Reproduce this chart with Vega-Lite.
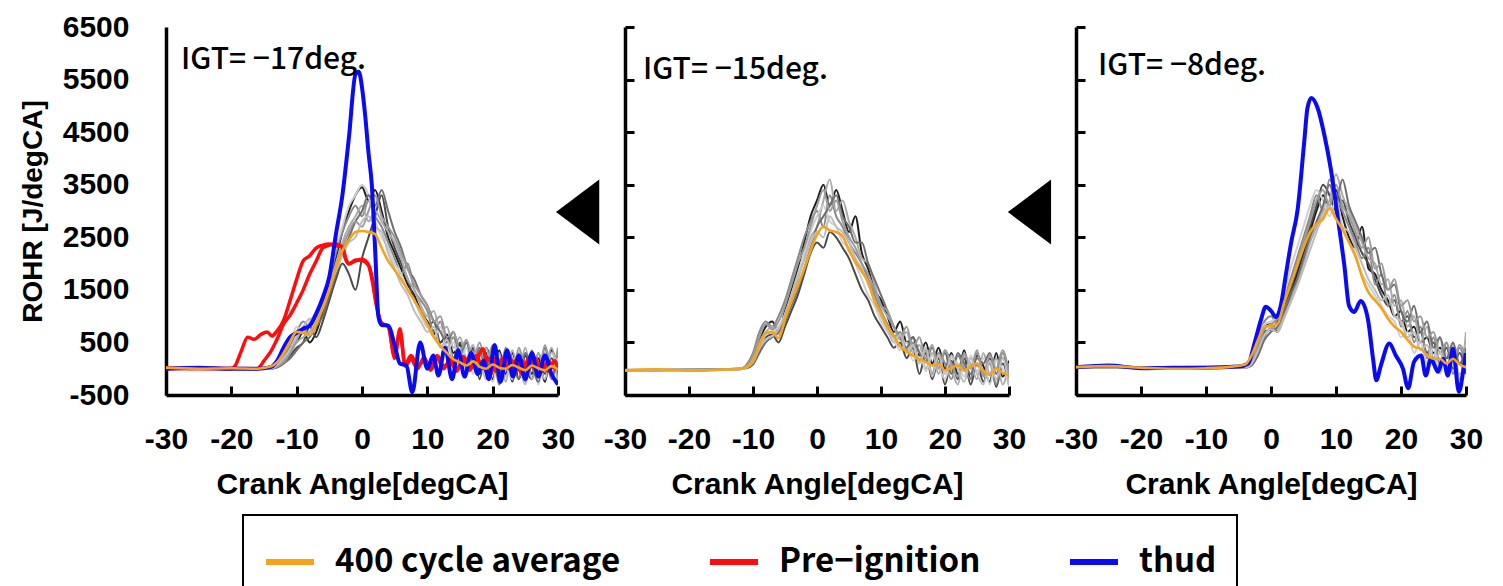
{
"$schema":"https://vega.github.io/schema/vega-lite/v6.json",
"autosize":{"type":"pad"},
"padding":{"left":18,"top":12,"right":5,"bottom":5},
"background":"white",
"bounds":"flush",
"spacing":67,
"resolve":{"scale":{"color":"shared","stroke":"shared"}},
"datasets":{
"gray":[
{"p":1,"s":"g1","x":-30,"y":0},{"p":1,"s":"g1","x":-14,"y":0},{"p":1,"s":"g1","x":-13,"y":60},{"p":1,"s":"g1","x":-12,"y":200},{"p":1,"s":"g1","x":-11,"y":400},{"p":1,"s":"g1","x":-10,"y":500},{"p":1,"s":"g1","x":-9,"y":700},{"p":1,"s":"g1","x":-8,"y":500},{"p":1,"s":"g1","x":-7,"y":700},{"p":1,"s":"g1","x":-6,"y":1100},{"p":1,"s":"g1","x":-5,"y":1600},{"p":1,"s":"g1","x":-4,"y":2100},{"p":1,"s":"g1","x":-3,"y":2600},{"p":1,"s":"g1","x":-2,"y":3000},{"p":1,"s":"g1","x":-1,"y":3300},{"p":1,"s":"g1","x":0,"y":3450},{"p":1,"s":"g1","x":1,"y":3200},{"p":1,"s":"g1","x":2,"y":3400},{"p":1,"s":"g1","x":3,"y":3000},{"p":1,"s":"g1","x":4,"y":2500},{"p":1,"s":"g1","x":5,"y":2200},{"p":1,"s":"g1","x":6,"y":1900},{"p":1,"s":"g1","x":7,"y":1600},{"p":1,"s":"g1","x":8,"y":1400},{"p":1,"s":"g1","x":9,"y":1100},{"p":1,"s":"g1","x":10,"y":900},{"p":1,"s":"g1","x":11,"y":700},{"p":1,"s":"g1","x":12,"y":500},{"p":1,"s":"g1","x":13,"y":650},{"p":1,"s":"g1","x":14,"y":300},{"p":1,"s":"g1","x":15,"y":450},{"p":1,"s":"g1","x":16,"y":100},{"p":1,"s":"g1","x":17,"y":400},{"p":1,"s":"g1","x":18,"y":-100},{"p":1,"s":"g1","x":19,"y":300},{"p":1,"s":"g1","x":20,"y":-200},{"p":1,"s":"g1","x":21,"y":350},{"p":1,"s":"g1","x":22,"y":-100},{"p":1,"s":"g1","x":23,"y":300},{"p":1,"s":"g1","x":24,"y":-200},{"p":1,"s":"g1","x":25,"y":250},{"p":1,"s":"g1","x":26,"y":-100},{"p":1,"s":"g1","x":27,"y":200},{"p":1,"s":"g1","x":28,"y":-250},{"p":1,"s":"g1","x":29,"y":350},{"p":1,"s":"g1","x":30,"y":-100},
{"p":1,"s":"g2","x":-30,"y":10},{"p":1,"s":"g2","x":-14,"y":0},{"p":1,"s":"g2","x":-13,"y":30},{"p":1,"s":"g2","x":-12,"y":100},{"p":1,"s":"g2","x":-11,"y":250},{"p":1,"s":"g2","x":-10,"y":400},{"p":1,"s":"g2","x":-9,"y":500},{"p":1,"s":"g2","x":-8,"y":800},{"p":1,"s":"g2","x":-7,"y":600},{"p":1,"s":"g2","x":-6,"y":900},{"p":1,"s":"g2","x":-5,"y":1300},{"p":1,"s":"g2","x":-4,"y":1700},{"p":1,"s":"g2","x":-3,"y":2000},{"p":1,"s":"g2","x":-2,"y":1800},{"p":1,"s":"g2","x":-1,"y":1500},{"p":1,"s":"g2","x":0,"y":2100},{"p":1,"s":"g2","x":1,"y":2500},{"p":1,"s":"g2","x":2,"y":2900},{"p":1,"s":"g2","x":3,"y":3300},{"p":1,"s":"g2","x":4,"y":2700},{"p":1,"s":"g2","x":5,"y":2300},{"p":1,"s":"g2","x":6,"y":2000},{"p":1,"s":"g2","x":7,"y":1700},{"p":1,"s":"g2","x":8,"y":1300},{"p":1,"s":"g2","x":9,"y":1100},{"p":1,"s":"g2","x":10,"y":800},{"p":1,"s":"g2","x":11,"y":900},{"p":1,"s":"g2","x":12,"y":500},{"p":1,"s":"g2","x":13,"y":600},{"p":1,"s":"g2","x":14,"y":200},{"p":1,"s":"g2","x":15,"y":500},{"p":1,"s":"g2","x":16,"y":0},{"p":1,"s":"g2","x":17,"y":400},{"p":1,"s":"g2","x":18,"y":-200},{"p":1,"s":"g2","x":19,"y":400},{"p":1,"s":"g2","x":20,"y":100},{"p":1,"s":"g2","x":21,"y":-150},{"p":1,"s":"g2","x":22,"y":300},{"p":1,"s":"g2","x":23,"y":-250},{"p":1,"s":"g2","x":24,"y":250},{"p":1,"s":"g2","x":25,"y":0},{"p":1,"s":"g2","x":26,"y":-200},{"p":1,"s":"g2","x":27,"y":300},{"p":1,"s":"g2","x":28,"y":-100},{"p":1,"s":"g2","x":29,"y":200},{"p":1,"s":"g2","x":30,"y":-200},
{"p":1,"s":"g3","x":-30,"y":0},{"p":1,"s":"g3","x":-14,"y":10},{"p":1,"s":"g3","x":-13,"y":80},{"p":1,"s":"g3","x":-12,"y":250},{"p":1,"s":"g3","x":-11,"y":450},{"p":1,"s":"g3","x":-10,"y":700},{"p":1,"s":"g3","x":-9,"y":900},{"p":1,"s":"g3","x":-8,"y":800},{"p":1,"s":"g3","x":-7,"y":1000},{"p":1,"s":"g3","x":-6,"y":1300},{"p":1,"s":"g3","x":-5,"y":1700},{"p":1,"s":"g3","x":-4,"y":2200},{"p":1,"s":"g3","x":-3,"y":2600},{"p":1,"s":"g3","x":-2,"y":2900},{"p":1,"s":"g3","x":-1,"y":3100},{"p":1,"s":"g3","x":0,"y":2900},{"p":1,"s":"g3","x":1,"y":3200},{"p":1,"s":"g3","x":2,"y":2900},{"p":1,"s":"g3","x":3,"y":2700},{"p":1,"s":"g3","x":4,"y":2400},{"p":1,"s":"g3","x":5,"y":2100},{"p":1,"s":"g3","x":6,"y":1800},{"p":1,"s":"g3","x":7,"y":2000},{"p":1,"s":"g3","x":8,"y":1500},{"p":1,"s":"g3","x":9,"y":1300},{"p":1,"s":"g3","x":10,"y":1100},{"p":1,"s":"g3","x":11,"y":700},{"p":1,"s":"g3","x":12,"y":900},{"p":1,"s":"g3","x":13,"y":400},{"p":1,"s":"g3","x":14,"y":600},{"p":1,"s":"g3","x":15,"y":200},{"p":1,"s":"g3","x":16,"y":500},{"p":1,"s":"g3","x":17,"y":0},{"p":1,"s":"g3","x":18,"y":350},{"p":1,"s":"g3","x":19,"y":-100},{"p":1,"s":"g3","x":20,"y":300},{"p":1,"s":"g3","x":21,"y":-200},{"p":1,"s":"g3","x":22,"y":400},{"p":1,"s":"g3","x":23,"y":-100},{"p":1,"s":"g3","x":24,"y":300},{"p":1,"s":"g3","x":25,"y":-250},{"p":1,"s":"g3","x":26,"y":350},{"p":1,"s":"g3","x":27,"y":-150},{"p":1,"s":"g3","x":28,"y":250},{"p":1,"s":"g3","x":29,"y":-200},{"p":1,"s":"g3","x":30,"y":300},
{"p":1,"s":"g4","x":-30,"y":0},{"p":1,"s":"g4","x":-14,"y":0},{"p":1,"s":"g4","x":-13,"y":50},{"p":1,"s":"g4","x":-12,"y":150},{"p":1,"s":"g4","x":-11,"y":300},{"p":1,"s":"g4","x":-10,"y":500},{"p":1,"s":"g4","x":-9,"y":600},{"p":1,"s":"g4","x":-8,"y":700},{"p":1,"s":"g4","x":-7,"y":900},{"p":1,"s":"g4","x":-6,"y":1200},{"p":1,"s":"g4","x":-5,"y":1600},{"p":1,"s":"g4","x":-4,"y":2000},{"p":1,"s":"g4","x":-3,"y":2400},{"p":1,"s":"g4","x":-2,"y":2700},{"p":1,"s":"g4","x":-1,"y":2900},{"p":1,"s":"g4","x":0,"y":3100},{"p":1,"s":"g4","x":1,"y":2800},{"p":1,"s":"g4","x":2,"y":3000},{"p":1,"s":"g4","x":3,"y":2800},{"p":1,"s":"g4","x":4,"y":2600},{"p":1,"s":"g4","x":5,"y":2400},{"p":1,"s":"g4","x":6,"y":2100},{"p":1,"s":"g4","x":7,"y":1700},{"p":1,"s":"g4","x":8,"y":1500},{"p":1,"s":"g4","x":9,"y":1200},{"p":1,"s":"g4","x":10,"y":1000},{"p":1,"s":"g4","x":11,"y":1100},{"p":1,"s":"g4","x":12,"y":700},{"p":1,"s":"g4","x":13,"y":800},{"p":1,"s":"g4","x":14,"y":400},{"p":1,"s":"g4","x":15,"y":600},{"p":1,"s":"g4","x":16,"y":200},{"p":1,"s":"g4","x":17,"y":450},{"p":1,"s":"g4","x":18,"y":0},{"p":1,"s":"g4","x":19,"y":400},{"p":1,"s":"g4","x":20,"y":-100},{"p":1,"s":"g4","x":21,"y":300},{"p":1,"s":"g4","x":22,"y":-250},{"p":1,"s":"g4","x":23,"y":350},{"p":1,"s":"g4","x":24,"y":-50},{"p":1,"s":"g4","x":25,"y":400},{"p":1,"s":"g4","x":26,"y":-200},{"p":1,"s":"g4","x":27,"y":300},{"p":1,"s":"g4","x":28,"y":0},{"p":1,"s":"g4","x":29,"y":400},{"p":1,"s":"g4","x":30,"y":-300},
{"p":1,"s":"g5","x":-30,"y":0},{"p":1,"s":"g5","x":-14,"y":20},{"p":1,"s":"g5","x":-13,"y":100},{"p":1,"s":"g5","x":-12,"y":300},{"p":1,"s":"g5","x":-11,"y":500},{"p":1,"s":"g5","x":-10,"y":800},{"p":1,"s":"g5","x":-9,"y":700},{"p":1,"s":"g5","x":-8,"y":900},{"p":1,"s":"g5","x":-7,"y":1100},{"p":1,"s":"g5","x":-6,"y":1400},{"p":1,"s":"g5","x":-5,"y":1800},{"p":1,"s":"g5","x":-4,"y":2300},{"p":1,"s":"g5","x":-3,"y":2700},{"p":1,"s":"g5","x":-2,"y":3100},{"p":1,"s":"g5","x":-1,"y":3300},{"p":1,"s":"g5","x":0,"y":3500},{"p":1,"s":"g5","x":1,"y":3300},{"p":1,"s":"g5","x":2,"y":2800},{"p":1,"s":"g5","x":3,"y":2500},{"p":1,"s":"g5","x":4,"y":2300},{"p":1,"s":"g5","x":5,"y":2000},{"p":1,"s":"g5","x":6,"y":1800},{"p":1,"s":"g5","x":7,"y":1500},{"p":1,"s":"g5","x":8,"y":1300},{"p":1,"s":"g5","x":9,"y":1000},{"p":1,"s":"g5","x":10,"y":800},{"p":1,"s":"g5","x":11,"y":600},{"p":1,"s":"g5","x":12,"y":800},{"p":1,"s":"g5","x":13,"y":350},{"p":1,"s":"g5","x":14,"y":500},{"p":1,"s":"g5","x":15,"y":100},{"p":1,"s":"g5","x":16,"y":400},{"p":1,"s":"g5","x":17,"y":-100},{"p":1,"s":"g5","x":18,"y":300},{"p":1,"s":"g5","x":19,"y":100},{"p":1,"s":"g5","x":20,"y":-250},{"p":1,"s":"g5","x":21,"y":200},{"p":1,"s":"g5","x":22,"y":100},{"p":1,"s":"g5","x":23,"y":-200},{"p":1,"s":"g5","x":24,"y":350},{"p":1,"s":"g5","x":25,"y":-100},{"p":1,"s":"g5","x":26,"y":200},{"p":1,"s":"g5","x":27,"y":-300},{"p":1,"s":"g5","x":28,"y":300},{"p":1,"s":"g5","x":29,"y":0},{"p":1,"s":"g5","x":30,"y":200},
{"p":1,"s":"g6","x":-30,"y":0},{"p":1,"s":"g6","x":-14,"y":0},{"p":1,"s":"g6","x":-13,"y":20},{"p":1,"s":"g6","x":-12,"y":100},{"p":1,"s":"g6","x":-11,"y":200},{"p":1,"s":"g6","x":-10,"y":350},{"p":1,"s":"g6","x":-9,"y":500},{"p":1,"s":"g6","x":-8,"y":600},{"p":1,"s":"g6","x":-7,"y":800},{"p":1,"s":"g6","x":-6,"y":1000},{"p":1,"s":"g6","x":-5,"y":1400},{"p":1,"s":"g6","x":-4,"y":1800},{"p":1,"s":"g6","x":-3,"y":2200},{"p":1,"s":"g6","x":-2,"y":2500},{"p":1,"s":"g6","x":-1,"y":2800},{"p":1,"s":"g6","x":0,"y":3000},{"p":1,"s":"g6","x":1,"y":3300},{"p":1,"s":"g6","x":2,"y":3100},{"p":1,"s":"g6","x":3,"y":3400},{"p":1,"s":"g6","x":4,"y":3000},{"p":1,"s":"g6","x":5,"y":2600},{"p":1,"s":"g6","x":6,"y":2300},{"p":1,"s":"g6","x":7,"y":1900},{"p":1,"s":"g6","x":8,"y":1700},{"p":1,"s":"g6","x":9,"y":1400},{"p":1,"s":"g6","x":10,"y":1200},{"p":1,"s":"g6","x":11,"y":900},{"p":1,"s":"g6","x":12,"y":700},{"p":1,"s":"g6","x":13,"y":500},{"p":1,"s":"g6","x":14,"y":700},{"p":1,"s":"g6","x":15,"y":300},{"p":1,"s":"g6","x":16,"y":500},{"p":1,"s":"g6","x":17,"y":100},{"p":1,"s":"g6","x":18,"y":400},{"p":1,"s":"g6","x":19,"y":0},{"p":1,"s":"g6","x":20,"y":300},{"p":1,"s":"g6","x":21,"y":-300},{"p":1,"s":"g6","x":22,"y":200},{"p":1,"s":"g6","x":23,"y":100},{"p":1,"s":"g6","x":24,"y":-200},{"p":1,"s":"g6","x":25,"y":300},{"p":1,"s":"g6","x":26,"y":50},{"p":1,"s":"g6","x":27,"y":-250},{"p":1,"s":"g6","x":28,"y":400},{"p":1,"s":"g6","x":29,"y":-100},{"p":1,"s":"g6","x":30,"y":100},
{"p":1,"s":"g7","x":-30,"y":0},{"p":1,"s":"g7","x":-14,"y":0},{"p":1,"s":"g7","x":-13,"y":40},{"p":1,"s":"g7","x":-12,"y":120},{"p":1,"s":"g7","x":-11,"y":300},{"p":1,"s":"g7","x":-10,"y":550},{"p":1,"s":"g7","x":-9,"y":750},{"p":1,"s":"g7","x":-8,"y":650},{"p":1,"s":"g7","x":-7,"y":850},{"p":1,"s":"g7","x":-6,"y":1250},{"p":1,"s":"g7","x":-5,"y":1500},{"p":1,"s":"g7","x":-4,"y":1900},{"p":1,"s":"g7","x":-3,"y":2300},{"p":1,"s":"g7","x":-2,"y":2600},{"p":1,"s":"g7","x":-1,"y":2800},{"p":1,"s":"g7","x":0,"y":2700},{"p":1,"s":"g7","x":1,"y":3000},{"p":1,"s":"g7","x":2,"y":3300},{"p":1,"s":"g7","x":3,"y":2900},{"p":1,"s":"g7","x":4,"y":2700},{"p":1,"s":"g7","x":5,"y":2500},{"p":1,"s":"g7","x":6,"y":2200},{"p":1,"s":"g7","x":7,"y":1900},{"p":1,"s":"g7","x":8,"y":1600},{"p":1,"s":"g7","x":9,"y":1400},{"p":1,"s":"g7","x":10,"y":1200},{"p":1,"s":"g7","x":11,"y":900},{"p":1,"s":"g7","x":12,"y":1000},{"p":1,"s":"g7","x":13,"y":600},{"p":1,"s":"g7","x":14,"y":700},{"p":1,"s":"g7","x":15,"y":350},{"p":1,"s":"g7","x":16,"y":550},{"p":1,"s":"g7","x":17,"y":150},{"p":1,"s":"g7","x":18,"y":500},{"p":1,"s":"g7","x":19,"y":50},{"p":1,"s":"g7","x":20,"y":450},{"p":1,"s":"g7","x":21,"y":0},{"p":1,"s":"g7","x":22,"y":350},{"p":1,"s":"g7","x":23,"y":-150},{"p":1,"s":"g7","x":24,"y":400},{"p":1,"s":"g7","x":25,"y":50},{"p":1,"s":"g7","x":26,"y":300},{"p":1,"s":"g7","x":27,"y":-100},{"p":1,"s":"g7","x":28,"y":450},{"p":1,"s":"g7","x":29,"y":0},{"p":1,"s":"g7","x":30,"y":400},
{"p":1,"s":"g8","x":-30,"y":0},{"p":1,"s":"g8","x":-14,"y":0},{"p":1,"s":"g8","x":-13,"y":70},{"p":1,"s":"g8","x":-12,"y":200},{"p":1,"s":"g8","x":-11,"y":380},{"p":1,"s":"g8","x":-10,"y":600},{"p":1,"s":"g8","x":-9,"y":800},{"p":1,"s":"g8","x":-8,"y":950},{"p":1,"s":"g8","x":-7,"y":900},{"p":1,"s":"g8","x":-6,"y":1200},{"p":1,"s":"g8","x":-5,"y":1550},{"p":1,"s":"g8","x":-4,"y":1850},{"p":1,"s":"g8","x":-3,"y":2150},{"p":1,"s":"g8","x":-2,"y":2400},{"p":1,"s":"g8","x":-1,"y":2500},{"p":1,"s":"g8","x":0,"y":2800},{"p":1,"s":"g8","x":1,"y":2900},{"p":1,"s":"g8","x":2,"y":2700},{"p":1,"s":"g8","x":3,"y":2600},{"p":1,"s":"g8","x":4,"y":2200},{"p":1,"s":"g8","x":5,"y":1900},{"p":1,"s":"g8","x":6,"y":1600},{"p":1,"s":"g8","x":7,"y":1400},{"p":1,"s":"g8","x":8,"y":1100},{"p":1,"s":"g8","x":9,"y":900},{"p":1,"s":"g8","x":10,"y":700},{"p":1,"s":"g8","x":11,"y":800},{"p":1,"s":"g8","x":12,"y":400},{"p":1,"s":"g8","x":13,"y":550},{"p":1,"s":"g8","x":14,"y":150},{"p":1,"s":"g8","x":15,"y":350},{"p":1,"s":"g8","x":16,"y":-50},{"p":1,"s":"g8","x":17,"y":300},{"p":1,"s":"g8","x":18,"y":150},{"p":1,"s":"g8","x":19,"y":-200},{"p":1,"s":"g8","x":20,"y":250},{"p":1,"s":"g8","x":21,"y":100},{"p":1,"s":"g8","x":22,"y":-150},{"p":1,"s":"g8","x":23,"y":200},{"p":1,"s":"g8","x":24,"y":50},{"p":1,"s":"g8","x":25,"y":-300},{"p":1,"s":"g8","x":26,"y":250},{"p":1,"s":"g8","x":27,"y":100},{"p":1,"s":"g8","x":28,"y":-200},{"p":1,"s":"g8","x":29,"y":300},{"p":1,"s":"g8","x":30,"y":0},
{"p":2,"s":"g1","x":-30,"y":-30},{"p":2,"s":"g1","x":-12,"y":-10},{"p":2,"s":"g1","x":-11,"y":50},{"p":2,"s":"g1","x":-10,"y":200},{"p":2,"s":"g1","x":-9,"y":550},{"p":2,"s":"g1","x":-8,"y":800},{"p":2,"s":"g1","x":-7,"y":900},{"p":2,"s":"g1","x":-6,"y":700},{"p":2,"s":"g1","x":-5,"y":1100},{"p":2,"s":"g1","x":-4,"y":1500},{"p":2,"s":"g1","x":-3,"y":1900},{"p":2,"s":"g1","x":-2,"y":2400},{"p":2,"s":"g1","x":-1,"y":2900},{"p":2,"s":"g1","x":0,"y":3200},{"p":2,"s":"g1","x":1,"y":3500},{"p":2,"s":"g1","x":2,"y":3100},{"p":2,"s":"g1","x":3,"y":3400},{"p":2,"s":"g1","x":4,"y":3000},{"p":2,"s":"g1","x":5,"y":2600},{"p":2,"s":"g1","x":6,"y":2900},{"p":2,"s":"g1","x":7,"y":2200},{"p":2,"s":"g1","x":8,"y":1900},{"p":2,"s":"g1","x":9,"y":1500},{"p":2,"s":"g1","x":10,"y":1300},{"p":2,"s":"g1","x":11,"y":1000},{"p":2,"s":"g1","x":12,"y":700},{"p":2,"s":"g1","x":13,"y":900},{"p":2,"s":"g1","x":14,"y":500},{"p":2,"s":"g1","x":15,"y":600},{"p":2,"s":"g1","x":16,"y":250},{"p":2,"s":"g1","x":17,"y":500},{"p":2,"s":"g1","x":18,"y":100},{"p":2,"s":"g1","x":19,"y":400},{"p":2,"s":"g1","x":20,"y":0},{"p":2,"s":"g1","x":21,"y":300},{"p":2,"s":"g1","x":22,"y":-100},{"p":2,"s":"g1","x":23,"y":350},{"p":2,"s":"g1","x":24,"y":-200},{"p":2,"s":"g1","x":25,"y":250},{"p":2,"s":"g1","x":26,"y":50},{"p":2,"s":"g1","x":27,"y":-250},{"p":2,"s":"g1","x":28,"y":300},{"p":2,"s":"g1","x":29,"y":-150},{"p":2,"s":"g1","x":30,"y":150},
{"p":2,"s":"g2","x":-30,"y":-40},{"p":2,"s":"g2","x":-12,"y":0},{"p":2,"s":"g2","x":-11,"y":20},{"p":2,"s":"g2","x":-10,"y":100},{"p":2,"s":"g2","x":-9,"y":350},{"p":2,"s":"g2","x":-8,"y":600},{"p":2,"s":"g2","x":-7,"y":650},{"p":2,"s":"g2","x":-6,"y":500},{"p":2,"s":"g2","x":-5,"y":800},{"p":2,"s":"g2","x":-4,"y":1100},{"p":2,"s":"g2","x":-3,"y":1400},{"p":2,"s":"g2","x":-2,"y":1800},{"p":2,"s":"g2","x":-1,"y":2200},{"p":2,"s":"g2","x":0,"y":2400},{"p":2,"s":"g2","x":1,"y":2300},{"p":2,"s":"g2","x":2,"y":2600},{"p":2,"s":"g2","x":3,"y":2500},{"p":2,"s":"g2","x":4,"y":2300},{"p":2,"s":"g2","x":5,"y":2100},{"p":2,"s":"g2","x":6,"y":1800},{"p":2,"s":"g2","x":7,"y":1500},{"p":2,"s":"g2","x":8,"y":1300},{"p":2,"s":"g2","x":9,"y":1000},{"p":2,"s":"g2","x":10,"y":800},{"p":2,"s":"g2","x":11,"y":600},{"p":2,"s":"g2","x":12,"y":400},{"p":2,"s":"g2","x":13,"y":500},{"p":2,"s":"g2","x":14,"y":200},{"p":2,"s":"g2","x":15,"y":400},{"p":2,"s":"g2","x":16,"y":-100},{"p":2,"s":"g2","x":17,"y":300},{"p":2,"s":"g2","x":18,"y":-200},{"p":2,"s":"g2","x":19,"y":200},{"p":2,"s":"g2","x":20,"y":-300},{"p":2,"s":"g2","x":21,"y":150},{"p":2,"s":"g2","x":22,"y":-200},{"p":2,"s":"g2","x":23,"y":200},{"p":2,"s":"g2","x":24,"y":-300},{"p":2,"s":"g2","x":25,"y":100},{"p":2,"s":"g2","x":26,"y":-250},{"p":2,"s":"g2","x":27,"y":200},{"p":2,"s":"g2","x":28,"y":-350},{"p":2,"s":"g2","x":29,"y":100},{"p":2,"s":"g2","x":30,"y":-300},
{"p":2,"s":"g3","x":-30,"y":-30},{"p":2,"s":"g3","x":-12,"y":0},{"p":2,"s":"g3","x":-11,"y":80},{"p":2,"s":"g3","x":-10,"y":300},{"p":2,"s":"g3","x":-9,"y":700},{"p":2,"s":"g3","x":-8,"y":900},{"p":2,"s":"g3","x":-7,"y":800},{"p":2,"s":"g3","x":-6,"y":1000},{"p":2,"s":"g3","x":-5,"y":1300},{"p":2,"s":"g3","x":-4,"y":1700},{"p":2,"s":"g3","x":-3,"y":2100},{"p":2,"s":"g3","x":-2,"y":2500},{"p":2,"s":"g3","x":-1,"y":2800},{"p":2,"s":"g3","x":0,"y":3000},{"p":2,"s":"g3","x":1,"y":2700},{"p":2,"s":"g3","x":2,"y":3300},{"p":2,"s":"g3","x":3,"y":2900},{"p":2,"s":"g3","x":4,"y":2700},{"p":2,"s":"g3","x":5,"y":2400},{"p":2,"s":"g3","x":6,"y":2200},{"p":2,"s":"g3","x":7,"y":2000},{"p":2,"s":"g3","x":8,"y":1700},{"p":2,"s":"g3","x":9,"y":1400},{"p":2,"s":"g3","x":10,"y":1100},{"p":2,"s":"g3","x":11,"y":850},{"p":2,"s":"g3","x":12,"y":600},{"p":2,"s":"g3","x":13,"y":700},{"p":2,"s":"g3","x":14,"y":350},{"p":2,"s":"g3","x":15,"y":500},{"p":2,"s":"g3","x":16,"y":150},{"p":2,"s":"g3","x":17,"y":350},{"p":2,"s":"g3","x":18,"y":-100},{"p":2,"s":"g3","x":19,"y":300},{"p":2,"s":"g3","x":20,"y":100},{"p":2,"s":"g3","x":21,"y":-200},{"p":2,"s":"g3","x":22,"y":250},{"p":2,"s":"g3","x":23,"y":0},{"p":2,"s":"g3","x":24,"y":-200},{"p":2,"s":"g3","x":25,"y":300},{"p":2,"s":"g3","x":26,"y":-100},{"p":2,"s":"g3","x":27,"y":100},{"p":2,"s":"g3","x":28,"y":-300},{"p":2,"s":"g3","x":29,"y":300},{"p":2,"s":"g3","x":30,"y":-200},
{"p":2,"s":"g4","x":-30,"y":-20},{"p":2,"s":"g4","x":-12,"y":-10},{"p":2,"s":"g4","x":-11,"y":30},{"p":2,"s":"g4","x":-10,"y":150},{"p":2,"s":"g4","x":-9,"y":500},{"p":2,"s":"g4","x":-8,"y":700},{"p":2,"s":"g4","x":-7,"y":800},{"p":2,"s":"g4","x":-6,"y":650},{"p":2,"s":"g4","x":-5,"y":900},{"p":2,"s":"g4","x":-4,"y":1300},{"p":2,"s":"g4","x":-3,"y":1700},{"p":2,"s":"g4","x":-2,"y":2100},{"p":2,"s":"g4","x":-1,"y":2500},{"p":2,"s":"g4","x":0,"y":2700},{"p":2,"s":"g4","x":1,"y":3200},{"p":2,"s":"g4","x":2,"y":3600},{"p":2,"s":"g4","x":3,"y":3000},{"p":2,"s":"g4","x":4,"y":3200},{"p":2,"s":"g4","x":5,"y":2800},{"p":2,"s":"g4","x":6,"y":2500},{"p":2,"s":"g4","x":7,"y":2100},{"p":2,"s":"g4","x":8,"y":2000},{"p":2,"s":"g4","x":9,"y":1600},{"p":2,"s":"g4","x":10,"y":1200},{"p":2,"s":"g4","x":11,"y":1000},{"p":2,"s":"g4","x":12,"y":800},{"p":2,"s":"g4","x":13,"y":550},{"p":2,"s":"g4","x":14,"y":700},{"p":2,"s":"g4","x":15,"y":300},{"p":2,"s":"g4","x":16,"y":450},{"p":2,"s":"g4","x":17,"y":0},{"p":2,"s":"g4","x":18,"y":300},{"p":2,"s":"g4","x":19,"y":-100},{"p":2,"s":"g4","x":20,"y":350},{"p":2,"s":"g4","x":21,"y":0},{"p":2,"s":"g4","x":22,"y":-300},{"p":2,"s":"g4","x":23,"y":250},{"p":2,"s":"g4","x":24,"y":100},{"p":2,"s":"g4","x":25,"y":-200},{"p":2,"s":"g4","x":26,"y":300},{"p":2,"s":"g4","x":27,"y":-100},{"p":2,"s":"g4","x":28,"y":200},{"p":2,"s":"g4","x":29,"y":-300},{"p":2,"s":"g4","x":30,"y":100},
{"p":2,"s":"g5","x":-30,"y":-30},{"p":2,"s":"g5","x":-12,"y":0},{"p":2,"s":"g5","x":-11,"y":40},{"p":2,"s":"g5","x":-10,"y":200},{"p":2,"s":"g5","x":-9,"y":400},{"p":2,"s":"g5","x":-8,"y":650},{"p":2,"s":"g5","x":-7,"y":700},{"p":2,"s":"g5","x":-6,"y":800},{"p":2,"s":"g5","x":-5,"y":1000},{"p":2,"s":"g5","x":-4,"y":1400},{"p":2,"s":"g5","x":-3,"y":1800},{"p":2,"s":"g5","x":-2,"y":2200},{"p":2,"s":"g5","x":-1,"y":2600},{"p":2,"s":"g5","x":0,"y":2900},{"p":2,"s":"g5","x":1,"y":3100},{"p":2,"s":"g5","x":2,"y":2800},{"p":2,"s":"g5","x":3,"y":2700},{"p":2,"s":"g5","x":4,"y":2400},{"p":2,"s":"g5","x":5,"y":2300},{"p":2,"s":"g5","x":6,"y":2000},{"p":2,"s":"g5","x":7,"y":1700},{"p":2,"s":"g5","x":8,"y":1400},{"p":2,"s":"g5","x":9,"y":1200},{"p":2,"s":"g5","x":10,"y":900},{"p":2,"s":"g5","x":11,"y":700},{"p":2,"s":"g5","x":12,"y":550},{"p":2,"s":"g5","x":13,"y":350},{"p":2,"s":"g5","x":14,"y":500},{"p":2,"s":"g5","x":15,"y":150},{"p":2,"s":"g5","x":16,"y":350},{"p":2,"s":"g5","x":17,"y":-50},{"p":2,"s":"g5","x":18,"y":250},{"p":2,"s":"g5","x":19,"y":50},{"p":2,"s":"g5","x":20,"y":-200},{"p":2,"s":"g5","x":21,"y":200},{"p":2,"s":"g5","x":22,"y":100},{"p":2,"s":"g5","x":23,"y":-150},{"p":2,"s":"g5","x":24,"y":250},{"p":2,"s":"g5","x":25,"y":-50},{"p":2,"s":"g5","x":26,"y":200},{"p":2,"s":"g5","x":27,"y":-300},{"p":2,"s":"g5","x":28,"y":150},{"p":2,"s":"g5","x":29,"y":0},{"p":2,"s":"g5","x":30,"y":-250},
{"p":2,"s":"g6","x":-30,"y":-30},{"p":2,"s":"g6","x":-12,"y":0},{"p":2,"s":"g6","x":-11,"y":10},{"p":2,"s":"g6","x":-10,"y":80},{"p":2,"s":"g6","x":-9,"y":300},{"p":2,"s":"g6","x":-8,"y":500},{"p":2,"s":"g6","x":-7,"y":600},{"p":2,"s":"g6","x":-6,"y":700},{"p":2,"s":"g6","x":-5,"y":900},{"p":2,"s":"g6","x":-4,"y":1200},{"p":2,"s":"g6","x":-3,"y":1500},{"p":2,"s":"g6","x":-2,"y":1900},{"p":2,"s":"g6","x":-1,"y":2300},{"p":2,"s":"g6","x":0,"y":2700},{"p":2,"s":"g6","x":1,"y":2900},{"p":2,"s":"g6","x":2,"y":3100},{"p":2,"s":"g6","x":3,"y":3300},{"p":2,"s":"g6","x":4,"y":2900},{"p":2,"s":"g6","x":5,"y":2700},{"p":2,"s":"g6","x":6,"y":2400},{"p":2,"s":"g6","x":7,"y":2400},{"p":2,"s":"g6","x":8,"y":2000},{"p":2,"s":"g6","x":9,"y":1700},{"p":2,"s":"g6","x":10,"y":1400},{"p":2,"s":"g6","x":11,"y":1100},{"p":2,"s":"g6","x":12,"y":800},{"p":2,"s":"g6","x":13,"y":600},{"p":2,"s":"g6","x":14,"y":400},{"p":2,"s":"g6","x":15,"y":600},{"p":2,"s":"g6","x":16,"y":300},{"p":2,"s":"g6","x":17,"y":150},{"p":2,"s":"g6","x":18,"y":400},{"p":2,"s":"g6","x":19,"y":100},{"p":2,"s":"g6","x":20,"y":300},{"p":2,"s":"g6","x":21,"y":-100},{"p":2,"s":"g6","x":22,"y":300},{"p":2,"s":"g6","x":23,"y":100},{"p":2,"s":"g6","x":24,"y":-100},{"p":2,"s":"g6","x":25,"y":200},{"p":2,"s":"g6","x":26,"y":100},{"p":2,"s":"g6","x":27,"y":300},{"p":2,"s":"g6","x":28,"y":-100},{"p":2,"s":"g6","x":29,"y":200},{"p":2,"s":"g6","x":30,"y":0},
{"p":2,"s":"g7","x":-30,"y":-30},{"p":2,"s":"g7","x":-12,"y":0},{"p":2,"s":"g7","x":-11,"y":60},{"p":2,"s":"g7","x":-10,"y":250},{"p":2,"s":"g7","x":-9,"y":600},{"p":2,"s":"g7","x":-8,"y":850},{"p":2,"s":"g7","x":-7,"y":750},{"p":2,"s":"g7","x":-6,"y":900},{"p":2,"s":"g7","x":-5,"y":1200},{"p":2,"s":"g7","x":-4,"y":1600},{"p":2,"s":"g7","x":-3,"y":2000},{"p":2,"s":"g7","x":-2,"y":2300},{"p":2,"s":"g7","x":-1,"y":2700},{"p":2,"s":"g7","x":0,"y":3100},{"p":2,"s":"g7","x":1,"y":3400},{"p":2,"s":"g7","x":2,"y":3000},{"p":2,"s":"g7","x":3,"y":3200},{"p":2,"s":"g7","x":4,"y":2800},{"p":2,"s":"g7","x":5,"y":2500},{"p":2,"s":"g7","x":6,"y":2300},{"p":2,"s":"g7","x":7,"y":2000},{"p":2,"s":"g7","x":8,"y":1800},{"p":2,"s":"g7","x":9,"y":1500},{"p":2,"s":"g7","x":10,"y":1200},{"p":2,"s":"g7","x":11,"y":1100},{"p":2,"s":"g7","x":12,"y":800},{"p":2,"s":"g7","x":13,"y":600},{"p":2,"s":"g7","x":14,"y":800},{"p":2,"s":"g7","x":15,"y":400},{"p":2,"s":"g7","x":16,"y":600},{"p":2,"s":"g7","x":17,"y":200},{"p":2,"s":"g7","x":18,"y":450},{"p":2,"s":"g7","x":19,"y":0},{"p":2,"s":"g7","x":20,"y":350},{"p":2,"s":"g7","x":21,"y":100},{"p":2,"s":"g7","x":22,"y":-150},{"p":2,"s":"g7","x":23,"y":300},{"p":2,"s":"g7","x":24,"y":0},{"p":2,"s":"g7","x":25,"y":350},{"p":2,"s":"g7","x":26,"y":-150},{"p":2,"s":"g7","x":27,"y":250},{"p":2,"s":"g7","x":28,"y":0},{"p":2,"s":"g7","x":29,"y":350},{"p":2,"s":"g7","x":30,"y":-100},
{"p":2,"s":"g8","x":-30,"y":-40},{"p":2,"s":"g8","x":-12,"y":-10},{"p":2,"s":"g8","x":-11,"y":20},{"p":2,"s":"g8","x":-10,"y":120},{"p":2,"s":"g8","x":-9,"y":380},{"p":2,"s":"g8","x":-8,"y":560},{"p":2,"s":"g8","x":-7,"y":620},{"p":2,"s":"g8","x":-6,"y":750},{"p":2,"s":"g8","x":-5,"y":1050},{"p":2,"s":"g8","x":-4,"y":1400},{"p":2,"s":"g8","x":-3,"y":1750},{"p":2,"s":"g8","x":-2,"y":2050},{"p":2,"s":"g8","x":-1,"y":2400},{"p":2,"s":"g8","x":0,"y":2600},{"p":2,"s":"g8","x":1,"y":2500},{"p":2,"s":"g8","x":2,"y":2900},{"p":2,"s":"g8","x":3,"y":2700},{"p":2,"s":"g8","x":4,"y":2600},{"p":2,"s":"g8","x":5,"y":2400},{"p":2,"s":"g8","x":6,"y":2100},{"p":2,"s":"g8","x":7,"y":1900},{"p":2,"s":"g8","x":8,"y":1600},{"p":2,"s":"g8","x":9,"y":1300},{"p":2,"s":"g8","x":10,"y":1000},{"p":2,"s":"g8","x":11,"y":750},{"p":2,"s":"g8","x":12,"y":500},{"p":2,"s":"g8","x":13,"y":650},{"p":2,"s":"g8","x":14,"y":300},{"p":2,"s":"g8","x":15,"y":450},{"p":2,"s":"g8","x":16,"y":100},{"p":2,"s":"g8","x":17,"y":400},{"p":2,"s":"g8","x":18,"y":-150},{"p":2,"s":"g8","x":19,"y":250},{"p":2,"s":"g8","x":20,"y":-100},{"p":2,"s":"g8","x":21,"y":250},{"p":2,"s":"g8","x":22,"y":0},{"p":2,"s":"g8","x":23,"y":-250},{"p":2,"s":"g8","x":24,"y":200},{"p":2,"s":"g8","x":25,"y":-100},{"p":2,"s":"g8","x":26,"y":-300},{"p":2,"s":"g8","x":27,"y":150},{"p":2,"s":"g8","x":28,"y":-200},{"p":2,"s":"g8","x":29,"y":200},{"p":2,"s":"g8","x":30,"y":-350},
{"p":3,"s":"g1","x":-30,"y":30},{"p":3,"s":"g1","x":-4,"y":30},{"p":3,"s":"g1","x":-3,"y":150},{"p":3,"s":"g1","x":-2,"y":500},{"p":3,"s":"g1","x":-1,"y":800},{"p":3,"s":"g1","x":0,"y":850},{"p":3,"s":"g1","x":1,"y":700},{"p":3,"s":"g1","x":2,"y":1000},{"p":3,"s":"g1","x":3,"y":1400},{"p":3,"s":"g1","x":4,"y":1800},{"p":3,"s":"g1","x":5,"y":2200},{"p":3,"s":"g1","x":6,"y":2600},{"p":3,"s":"g1","x":7,"y":3000},{"p":3,"s":"g1","x":8,"y":3300},{"p":3,"s":"g1","x":9,"y":3100},{"p":3,"s":"g1","x":10,"y":3400},{"p":3,"s":"g1","x":11,"y":2900},{"p":3,"s":"g1","x":12,"y":2500},{"p":3,"s":"g1","x":13,"y":2300},{"p":3,"s":"g1","x":14,"y":2700},{"p":3,"s":"g1","x":15,"y":1900},{"p":3,"s":"g1","x":16,"y":1800},{"p":3,"s":"g1","x":17,"y":1500},{"p":3,"s":"g1","x":18,"y":1300},{"p":3,"s":"g1","x":19,"y":1000},{"p":3,"s":"g1","x":20,"y":1100},{"p":3,"s":"g1","x":21,"y":700},{"p":3,"s":"g1","x":22,"y":800},{"p":3,"s":"g1","x":23,"y":500},{"p":3,"s":"g1","x":24,"y":600},{"p":3,"s":"g1","x":25,"y":300},{"p":3,"s":"g1","x":26,"y":400},{"p":3,"s":"g1","x":27,"y":200},{"p":3,"s":"g1","x":28,"y":350},{"p":3,"s":"g1","x":29,"y":100},{"p":3,"s":"g1","x":30,"y":200},
{"p":3,"s":"g2","x":-30,"y":30},{"p":3,"s":"g2","x":-4,"y":20},{"p":3,"s":"g2","x":-3,"y":100},{"p":3,"s":"g2","x":-2,"y":400},{"p":3,"s":"g2","x":-1,"y":700},{"p":3,"s":"g2","x":0,"y":750},{"p":3,"s":"g2","x":1,"y":900},{"p":3,"s":"g2","x":2,"y":1200},{"p":3,"s":"g2","x":3,"y":1500},{"p":3,"s":"g2","x":4,"y":1900},{"p":3,"s":"g2","x":5,"y":2300},{"p":3,"s":"g2","x":6,"y":2700},{"p":3,"s":"g2","x":7,"y":3100},{"p":3,"s":"g2","x":8,"y":3500},{"p":3,"s":"g2","x":9,"y":3300},{"p":3,"s":"g2","x":10,"y":3000},{"p":3,"s":"g2","x":11,"y":3200},{"p":3,"s":"g2","x":12,"y":2800},{"p":3,"s":"g2","x":13,"y":2500},{"p":3,"s":"g2","x":14,"y":2200},{"p":3,"s":"g2","x":15,"y":2000},{"p":3,"s":"g2","x":16,"y":1700},{"p":3,"s":"g2","x":17,"y":1400},{"p":3,"s":"g2","x":18,"y":1200},{"p":3,"s":"g2","x":19,"y":1300},{"p":3,"s":"g2","x":20,"y":900},{"p":3,"s":"g2","x":21,"y":1000},{"p":3,"s":"g2","x":22,"y":600},{"p":3,"s":"g2","x":23,"y":700},{"p":3,"s":"g2","x":24,"y":300},{"p":3,"s":"g2","x":25,"y":500},{"p":3,"s":"g2","x":26,"y":100},{"p":3,"s":"g2","x":27,"y":400},{"p":3,"s":"g2","x":28,"y":0},{"p":3,"s":"g2","x":29,"y":300},{"p":3,"s":"g2","x":30,"y":-100},
{"p":3,"s":"g3","x":-30,"y":20},{"p":3,"s":"g3","x":-4,"y":40},{"p":3,"s":"g3","x":-3,"y":200},{"p":3,"s":"g3","x":-2,"y":600},{"p":3,"s":"g3","x":-1,"y":900},{"p":3,"s":"g3","x":0,"y":1000},{"p":3,"s":"g3","x":1,"y":850},{"p":3,"s":"g3","x":2,"y":1300},{"p":3,"s":"g3","x":3,"y":1700},{"p":3,"s":"g3","x":4,"y":2100},{"p":3,"s":"g3","x":5,"y":2500},{"p":3,"s":"g3","x":6,"y":2900},{"p":3,"s":"g3","x":7,"y":3300},{"p":3,"s":"g3","x":8,"y":3000},{"p":3,"s":"g3","x":9,"y":3600},{"p":3,"s":"g3","x":10,"y":3300},{"p":3,"s":"g3","x":11,"y":3000},{"p":3,"s":"g3","x":12,"y":2700},{"p":3,"s":"g3","x":13,"y":2400},{"p":3,"s":"g3","x":14,"y":2100},{"p":3,"s":"g3","x":15,"y":2300},{"p":3,"s":"g3","x":16,"y":1600},{"p":3,"s":"g3","x":17,"y":1800},{"p":3,"s":"g3","x":18,"y":1200},{"p":3,"s":"g3","x":19,"y":1400},{"p":3,"s":"g3","x":20,"y":800},{"p":3,"s":"g3","x":21,"y":1100},{"p":3,"s":"g3","x":22,"y":500},{"p":3,"s":"g3","x":23,"y":800},{"p":3,"s":"g3","x":24,"y":200},{"p":3,"s":"g3","x":25,"y":600},{"p":3,"s":"g3","x":26,"y":0},{"p":3,"s":"g3","x":27,"y":500},{"p":3,"s":"g3","x":28,"y":-100},{"p":3,"s":"g3","x":29,"y":400},{"p":3,"s":"g3","x":30,"y":0},
{"p":3,"s":"g4","x":-30,"y":30},{"p":3,"s":"g4","x":-4,"y":20},{"p":3,"s":"g4","x":-3,"y":80},{"p":3,"s":"g4","x":-2,"y":300},{"p":3,"s":"g4","x":-1,"y":600},{"p":3,"s":"g4","x":0,"y":800},{"p":3,"s":"g4","x":1,"y":750},{"p":3,"s":"g4","x":2,"y":1000},{"p":3,"s":"g4","x":3,"y":1300},{"p":3,"s":"g4","x":4,"y":1600},{"p":3,"s":"g4","x":5,"y":2000},{"p":3,"s":"g4","x":6,"y":2400},{"p":3,"s":"g4","x":7,"y":2700},{"p":3,"s":"g4","x":8,"y":3000},{"p":3,"s":"g4","x":9,"y":3200},{"p":3,"s":"g4","x":10,"y":3700},{"p":3,"s":"g4","x":11,"y":3300},{"p":3,"s":"g4","x":12,"y":3000},{"p":3,"s":"g4","x":13,"y":2700},{"p":3,"s":"g4","x":14,"y":2400},{"p":3,"s":"g4","x":15,"y":2100},{"p":3,"s":"g4","x":16,"y":2000},{"p":3,"s":"g4","x":17,"y":1600},{"p":3,"s":"g4","x":18,"y":1700},{"p":3,"s":"g4","x":19,"y":1200},{"p":3,"s":"g4","x":20,"y":1300},{"p":3,"s":"g4","x":21,"y":800},{"p":3,"s":"g4","x":22,"y":1000},{"p":3,"s":"g4","x":23,"y":500},{"p":3,"s":"g4","x":24,"y":800},{"p":3,"s":"g4","x":25,"y":200},{"p":3,"s":"g4","x":26,"y":600},{"p":3,"s":"g4","x":27,"y":-100},{"p":3,"s":"g4","x":28,"y":500},{"p":3,"s":"g4","x":29,"y":-200},{"p":3,"s":"g4","x":30,"y":700},
{"p":3,"s":"g5","x":-30,"y":20},{"p":3,"s":"g5","x":-4,"y":40},{"p":3,"s":"g5","x":-3,"y":180},{"p":3,"s":"g5","x":-2,"y":550},{"p":3,"s":"g5","x":-1,"y":850},{"p":3,"s":"g5","x":0,"y":900},{"p":3,"s":"g5","x":1,"y":1000},{"p":3,"s":"g5","x":2,"y":1400},{"p":3,"s":"g5","x":3,"y":1900},{"p":3,"s":"g5","x":4,"y":2300},{"p":3,"s":"g5","x":5,"y":2700},{"p":3,"s":"g5","x":6,"y":3100},{"p":3,"s":"g5","x":7,"y":3400},{"p":3,"s":"g5","x":8,"y":3200},{"p":3,"s":"g5","x":9,"y":2900},{"p":3,"s":"g5","x":10,"y":3200},{"p":3,"s":"g5","x":11,"y":2700},{"p":3,"s":"g5","x":12,"y":2400},{"p":3,"s":"g5","x":13,"y":2100},{"p":3,"s":"g5","x":14,"y":1800},{"p":3,"s":"g5","x":15,"y":1600},{"p":3,"s":"g5","x":16,"y":1400},{"p":3,"s":"g5","x":17,"y":1200},{"p":3,"s":"g5","x":18,"y":1000},{"p":3,"s":"g5","x":19,"y":900},{"p":3,"s":"g5","x":20,"y":600},{"p":3,"s":"g5","x":21,"y":700},{"p":3,"s":"g5","x":22,"y":300},{"p":3,"s":"g5","x":23,"y":500},{"p":3,"s":"g5","x":24,"y":100},{"p":3,"s":"g5","x":25,"y":400},{"p":3,"s":"g5","x":26,"y":-100},{"p":3,"s":"g5","x":27,"y":300},{"p":3,"s":"g5","x":28,"y":100},{"p":3,"s":"g5","x":29,"y":-200},{"p":3,"s":"g5","x":30,"y":200},
{"p":3,"s":"g6","x":-30,"y":30},{"p":3,"s":"g6","x":-4,"y":20},{"p":3,"s":"g6","x":-3,"y":60},{"p":3,"s":"g6","x":-2,"y":250},{"p":3,"s":"g6","x":-1,"y":550},{"p":3,"s":"g6","x":0,"y":700},{"p":3,"s":"g6","x":1,"y":800},{"p":3,"s":"g6","x":2,"y":1100},{"p":3,"s":"g6","x":3,"y":1400},{"p":3,"s":"g6","x":4,"y":1700},{"p":3,"s":"g6","x":5,"y":2100},{"p":3,"s":"g6","x":6,"y":2500},{"p":3,"s":"g6","x":7,"y":2800},{"p":3,"s":"g6","x":8,"y":3100},{"p":3,"s":"g6","x":9,"y":3500},{"p":3,"s":"g6","x":10,"y":3200},{"p":3,"s":"g6","x":11,"y":3600},{"p":3,"s":"g6","x":12,"y":3100},{"p":3,"s":"g6","x":13,"y":2800},{"p":3,"s":"g6","x":14,"y":2500},{"p":3,"s":"g6","x":15,"y":2200},{"p":3,"s":"g6","x":16,"y":2300},{"p":3,"s":"g6","x":17,"y":1800},{"p":3,"s":"g6","x":18,"y":1500},{"p":3,"s":"g6","x":19,"y":1600},{"p":3,"s":"g6","x":20,"y":1100},{"p":3,"s":"g6","x":21,"y":900},{"p":3,"s":"g6","x":22,"y":1200},{"p":3,"s":"g6","x":23,"y":700},{"p":3,"s":"g6","x":24,"y":900},{"p":3,"s":"g6","x":25,"y":400},{"p":3,"s":"g6","x":26,"y":600},{"p":3,"s":"g6","x":27,"y":200},{"p":3,"s":"g6","x":28,"y":500},{"p":3,"s":"g6","x":29,"y":100},{"p":3,"s":"g6","x":30,"y":400},
{"p":3,"s":"g7","x":-30,"y":20},{"p":3,"s":"g7","x":-4,"y":30},{"p":3,"s":"g7","x":-3,"y":120},{"p":3,"s":"g7","x":-2,"y":450},{"p":3,"s":"g7","x":-1,"y":750},{"p":3,"s":"g7","x":0,"y":850},{"p":3,"s":"g7","x":1,"y":950},{"p":3,"s":"g7","x":2,"y":1250},{"p":3,"s":"g7","x":3,"y":1600},{"p":3,"s":"g7","x":4,"y":2000},{"p":3,"s":"g7","x":5,"y":2400},{"p":3,"s":"g7","x":6,"y":2800},{"p":3,"s":"g7","x":7,"y":3200},{"p":3,"s":"g7","x":8,"y":3400},{"p":3,"s":"g7","x":9,"y":3100},{"p":3,"s":"g7","x":10,"y":3500},{"p":3,"s":"g7","x":11,"y":3100},{"p":3,"s":"g7","x":12,"y":2900},{"p":3,"s":"g7","x":13,"y":2600},{"p":3,"s":"g7","x":14,"y":2300},{"p":3,"s":"g7","x":15,"y":2500},{"p":3,"s":"g7","x":16,"y":1900},{"p":3,"s":"g7","x":17,"y":2000},{"p":3,"s":"g7","x":18,"y":1500},{"p":3,"s":"g7","x":19,"y":1700},{"p":3,"s":"g7","x":20,"y":1200},{"p":3,"s":"g7","x":21,"y":1300},{"p":3,"s":"g7","x":22,"y":900},{"p":3,"s":"g7","x":23,"y":1000},{"p":3,"s":"g7","x":24,"y":600},{"p":3,"s":"g7","x":25,"y":700},{"p":3,"s":"g7","x":26,"y":300},{"p":3,"s":"g7","x":27,"y":500},{"p":3,"s":"g7","x":28,"y":150},{"p":3,"s":"g7","x":29,"y":450},{"p":3,"s":"g7","x":30,"y":250},
{"p":3,"s":"g8","x":-30,"y":30},{"p":3,"s":"g8","x":-4,"y":20},{"p":3,"s":"g8","x":-3,"y":90},{"p":3,"s":"g8","x":-2,"y":350},{"p":3,"s":"g8","x":-1,"y":650},{"p":3,"s":"g8","x":0,"y":750},{"p":3,"s":"g8","x":1,"y":700},{"p":3,"s":"g8","x":2,"y":950},{"p":3,"s":"g8","x":3,"y":1250},{"p":3,"s":"g8","x":4,"y":1550},{"p":3,"s":"g8","x":5,"y":1900},{"p":3,"s":"g8","x":6,"y":2250},{"p":3,"s":"g8","x":7,"y":2600},{"p":3,"s":"g8","x":8,"y":2900},{"p":3,"s":"g8","x":9,"y":3100},{"p":3,"s":"g8","x":10,"y":2900},{"p":3,"s":"g8","x":11,"y":2700},{"p":3,"s":"g8","x":12,"y":2600},{"p":3,"s":"g8","x":13,"y":2300},{"p":3,"s":"g8","x":14,"y":2000},{"p":3,"s":"g8","x":15,"y":1700},{"p":3,"s":"g8","x":16,"y":1500},{"p":3,"s":"g8","x":17,"y":1300},{"p":3,"s":"g8","x":18,"y":1400},{"p":3,"s":"g8","x":19,"y":1000},{"p":3,"s":"g8","x":20,"y":900},{"p":3,"s":"g8","x":21,"y":600},{"p":3,"s":"g8","x":22,"y":700},{"p":3,"s":"g8","x":23,"y":350},{"p":3,"s":"g8","x":24,"y":450},{"p":3,"s":"g8","x":25,"y":100},{"p":3,"s":"g8","x":26,"y":300},{"p":3,"s":"g8","x":27,"y":0},{"p":3,"s":"g8","x":28,"y":250},{"p":3,"s":"g8","x":29,"y":-100},{"p":3,"s":"g8","x":30,"y":100}
],
"avg":[
{"p":1,"x":-30,"y":20},{"p":1,"x":-25,"y":0},{"p":1,"x":-20,"y":10},{"p":1,"x":-16,"y":0},{"p":1,"x":-14,"y":40},{"p":1,"x":-13,"y":120},{"p":1,"x":-12,"y":300},{"p":1,"x":-11,"y":520},{"p":1,"x":-10,"y":700},{"p":1,"x":-9,"y":680},{"p":1,"x":-8,"y":640},{"p":1,"x":-7,"y":850},{"p":1,"x":-6,"y":1150},{"p":1,"x":-5,"y":1500},{"p":1,"x":-4,"y":1900},{"p":1,"x":-3,"y":2250},{"p":1,"x":-2,"y":2450},{"p":1,"x":-1,"y":2600},{"p":1,"x":0,"y":2620},{"p":1,"x":1,"y":2600},{"p":1,"x":2,"y":2560},{"p":1,"x":3,"y":2300},{"p":1,"x":4,"y":2050},{"p":1,"x":5,"y":1880},{"p":1,"x":6,"y":1700},{"p":1,"x":7,"y":1500},{"p":1,"x":8,"y":1300},{"p":1,"x":9,"y":1080},{"p":1,"x":10,"y":850},{"p":1,"x":11,"y":600},{"p":1,"x":12,"y":430},{"p":1,"x":13,"y":300},{"p":1,"x":14,"y":180},{"p":1,"x":15,"y":120},{"p":1,"x":16,"y":60},{"p":1,"x":17,"y":140},{"p":1,"x":18,"y":40},{"p":1,"x":19,"y":0},{"p":1,"x":20,"y":80},{"p":1,"x":21,"y":20},{"p":1,"x":22,"y":0},{"p":1,"x":23,"y":70},{"p":1,"x":24,"y":20},{"p":1,"x":25,"y":-30},{"p":1,"x":26,"y":60},{"p":1,"x":27,"y":10},{"p":1,"x":28,"y":-30},{"p":1,"x":29,"y":50},{"p":1,"x":30,"y":-20},
{"p":2,"x":-30,"y":-30},{"p":2,"x":-25,"y":-10},{"p":2,"x":-20,"y":-40},{"p":2,"x":-15,"y":-20},{"p":2,"x":-12,"y":0},{"p":2,"x":-11,"y":30},{"p":2,"x":-10,"y":150},{"p":2,"x":-9,"y":450},{"p":2,"x":-8,"y":680},{"p":2,"x":-7,"y":700},{"p":2,"x":-6,"y":580},{"p":2,"x":-5,"y":950},{"p":2,"x":-4,"y":1280},{"p":2,"x":-3,"y":1580},{"p":2,"x":-2,"y":1900},{"p":2,"x":-1,"y":2250},{"p":2,"x":0,"y":2550},{"p":2,"x":1,"y":2700},{"p":2,"x":2,"y":2630},{"p":2,"x":3,"y":2600},{"p":2,"x":4,"y":2520},{"p":2,"x":5,"y":2250},{"p":2,"x":6,"y":2030},{"p":2,"x":7,"y":1850},{"p":2,"x":8,"y":1650},{"p":2,"x":9,"y":1280},{"p":2,"x":10,"y":1050},{"p":2,"x":11,"y":800},{"p":2,"x":12,"y":630},{"p":2,"x":13,"y":420},{"p":2,"x":14,"y":330},{"p":2,"x":15,"y":250},{"p":2,"x":16,"y":180},{"p":2,"x":17,"y":130},{"p":2,"x":18,"y":60},{"p":2,"x":19,"y":90},{"p":2,"x":20,"y":-30},{"p":2,"x":21,"y":20},{"p":2,"x":22,"y":60},{"p":2,"x":23,"y":-40},{"p":2,"x":24,"y":40},{"p":2,"x":25,"y":100},{"p":2,"x":26,"y":-40},{"p":2,"x":27,"y":-120},{"p":2,"x":28,"y":0},{"p":2,"x":29,"y":-80},{"p":2,"x":30,"y":-120},
{"p":3,"x":-30,"y":30},{"p":3,"x":-25,"y":50},{"p":3,"x":-20,"y":20},{"p":3,"x":-15,"y":0},{"p":3,"x":-10,"y":10},{"p":3,"x":-6,"y":40},{"p":3,"x":-4,"y":80},{"p":3,"x":-3,"y":250},{"p":3,"x":-2,"y":550},{"p":3,"x":-1,"y":800},{"p":3,"x":0,"y":820},{"p":3,"x":1,"y":850},{"p":3,"x":2,"y":1250},{"p":3,"x":3,"y":1600},{"p":3,"x":4,"y":1950},{"p":3,"x":5,"y":2300},{"p":3,"x":6,"y":2600},{"p":3,"x":7,"y":2750},{"p":3,"x":8,"y":2850},{"p":3,"x":9,"y":3050},{"p":3,"x":10,"y":2850},{"p":3,"x":11,"y":2650},{"p":3,"x":12,"y":2400},{"p":3,"x":13,"y":2150},{"p":3,"x":14,"y":1750},{"p":3,"x":15,"y":1450},{"p":3,"x":16,"y":1300},{"p":3,"x":17,"y":1150},{"p":3,"x":18,"y":950},{"p":3,"x":19,"y":800},{"p":3,"x":20,"y":700},{"p":3,"x":21,"y":550},{"p":3,"x":22,"y":420},{"p":3,"x":23,"y":380},{"p":3,"x":24,"y":260},{"p":3,"x":25,"y":190},{"p":3,"x":26,"y":190},{"p":3,"x":27,"y":100},{"p":3,"x":28,"y":190},{"p":3,"x":29,"y":80},{"p":3,"x":30,"y":30}
],
"pre":[
{"s":"a","x":-30,"y":0},{"s":"a","x":-25,"y":10},{"s":"a","x":-20,"y":0},{"s":"a","x":-19.5,"y":40},{"s":"a","x":-18.5,"y":330},{"s":"a","x":-17.5,"y":600},{"s":"a","x":-16.5,"y":560},{"s":"a","x":-15.5,"y":650},{"s":"a","x":-14.5,"y":700},{"s":"a","x":-13.8,"y":620},{"s":"a","x":-13,"y":720},{"s":"a","x":-12,"y":920},{"s":"a","x":-11,"y":1300},{"s":"a","x":-10,"y":1700},{"s":"a","x":-9,"y":2050},{"s":"a","x":-8,"y":2150},{"s":"a","x":-7,"y":2300},{"s":"a","x":-6,"y":2350},{"s":"a","x":-5,"y":2370},{"s":"a","x":-4,"y":2340},{"s":"a","x":-3,"y":2320},{"s":"a","x":-2.5,"y":2100},{"s":"a","x":-2,"y":2000},{"s":"a","x":-1,"y":2050},{"s":"a","x":0,"y":2080},{"s":"a","x":1,"y":1980},{"s":"a","x":1.6,"y":1700},{"s":"a","x":2.2,"y":1250},{"s":"a","x":3,"y":850},{"s":"a","x":4,"y":820},{"s":"a","x":5,"y":200},{"s":"a","x":5.8,"y":760},{"s":"a","x":6.6,"y":50},{"s":"a","x":7.5,"y":180},{"s":"a","x":8.5,"y":0},{"s":"a","x":9.5,"y":220},{"s":"a","x":10.5,"y":-30},{"s":"a","x":11.5,"y":200},{"s":"a","x":12.5,"y":0},{"s":"a","x":13.5,"y":180},{"s":"a","x":14.5,"y":-50},{"s":"a","x":15.5,"y":230},{"s":"a","x":16.5,"y":30},{"s":"a","x":17.5,"y":150},{"s":"a","x":18.5,"y":380},{"s":"a","x":19.5,"y":-150},{"s":"a","x":20.5,"y":200},{"s":"a","x":21.5,"y":50},{"s":"a","x":22.5,"y":250},{"s":"a","x":23.5,"y":-50},{"s":"a","x":24.5,"y":150},{"s":"a","x":25.5,"y":0},{"s":"a","x":26.5,"y":200},{"s":"a","x":27.5,"y":-50},{"s":"a","x":28.5,"y":150},{"s":"a","x":29.5,"y":0},{"s":"a","x":30,"y":80},
{"s":"b","x":-30,"y":20},{"s":"b","x":-25,"y":0},{"s":"b","x":-20,"y":10},{"s":"b","x":-16,"y":0},{"s":"b","x":-15.5,"y":60},{"s":"b","x":-15,"y":150},{"s":"b","x":-14,"y":320},{"s":"b","x":-13,"y":560},{"s":"b","x":-12,"y":850},{"s":"b","x":-11,"y":1020},{"s":"b","x":-10,"y":1250},{"s":"b","x":-9,"y":1500},{"s":"b","x":-8,"y":1800},{"s":"b","x":-7,"y":2050},{"s":"b","x":-6,"y":2300},{"s":"b","x":-5,"y":2350},{"s":"b","x":-4,"y":2370},{"s":"b","x":-3,"y":2300},{"s":"b","x":-2.5,"y":2080},{"s":"b","x":-2,"y":1990},{"s":"b","x":-1,"y":2070},{"s":"b","x":0,"y":2060},{"s":"b","x":1,"y":1960},{"s":"b","x":1.6,"y":1650},{"s":"b","x":2.2,"y":1200},{"s":"b","x":3,"y":870},{"s":"b","x":4,"y":800},{"s":"b","x":5,"y":250},{"s":"b","x":5.8,"y":700},{"s":"b","x":6.6,"y":80},{"s":"b","x":7.5,"y":250},{"s":"b","x":8.5,"y":50},{"s":"b","x":9.5,"y":150},{"s":"b","x":10.5,"y":0},{"s":"b","x":11.5,"y":250},{"s":"b","x":12.5,"y":50},{"s":"b","x":13.5,"y":100},{"s":"b","x":14.5,"y":0},{"s":"b","x":15.5,"y":150},{"s":"b","x":16.5,"y":-30},{"s":"b","x":17.5,"y":250},{"s":"b","x":18.5,"y":0},{"s":"b","x":19.5,"y":200},{"s":"b","x":20.5,"y":-50},{"s":"b","x":21.5,"y":200},{"s":"b","x":22.5,"y":0},{"s":"b","x":23.5,"y":150},{"s":"b","x":24.5,"y":-100},{"s":"b","x":25.5,"y":200},{"s":"b","x":26.5,"y":0},{"s":"b","x":27.5,"y":100},{"s":"b","x":28.5,"y":-50},{"s":"b","x":29.5,"y":150},{"s":"b","x":30,"y":0}
],
"thud":[
{"p":1,"x":-30,"y":0},{"p":1,"x":-25,"y":20},{"p":1,"x":-20,"y":0},{"p":1,"x":-16,"y":0},{"p":1,"x":-14,"y":30},{"p":1,"x":-13,"y":150},{"p":1,"x":-12,"y":400},{"p":1,"x":-11,"y":600},{"p":1,"x":-10,"y":680},{"p":1,"x":-9,"y":760},{"p":1,"x":-8,"y":820},{"p":1,"x":-7,"y":1050},{"p":1,"x":-6,"y":1350},{"p":1,"x":-5,"y":1750},{"p":1,"x":-4,"y":2550},{"p":1,"x":-3,"y":3300},{"p":1,"x":-2,"y":4400},{"p":1,"x":-1,"y":5600},{"p":1,"x":-0.5,"y":5650},{"p":1,"x":0,"y":5350},{"p":1,"x":0.5,"y":4800},{"p":1,"x":1,"y":4100},{"p":1,"x":1.5,"y":3500},{"p":1,"x":2,"y":2300},{"p":1,"x":2.5,"y":1000},{"p":1,"x":3,"y":830},{"p":1,"x":4,"y":820},{"p":1,"x":5,"y":450},{"p":1,"x":5.8,"y":100},{"p":1,"x":6.8,"y":60},{"p":1,"x":7.7,"y":-450},{"p":1,"x":8.9,"y":500},{"p":1,"x":10,"y":0},{"p":1,"x":10.9,"y":250},{"p":1,"x":11.7,"y":-130},{"p":1,"x":12.7,"y":400},{"p":1,"x":13.8,"y":-200},{"p":1,"x":14.7,"y":350},{"p":1,"x":15.7,"y":-150},{"p":1,"x":16.7,"y":300},{"p":1,"x":17.7,"y":-100},{"p":1,"x":18.6,"y":150},{"p":1,"x":19.4,"y":-200},{"p":1,"x":20.3,"y":450},{"p":1,"x":21.2,"y":-250},{"p":1,"x":22.2,"y":350},{"p":1,"x":23.1,"y":-150},{"p":1,"x":24,"y":250},{"p":1,"x":25,"y":-200},{"p":1,"x":26,"y":300},{"p":1,"x":27,"y":-150},{"p":1,"x":28,"y":250},{"p":1,"x":29,"y":-100},{"p":1,"x":30,"y":-300},
{"p":3,"x":-30,"y":30},{"p":3,"x":-25,"y":60},{"p":3,"x":-20,"y":10},{"p":3,"x":-15,"y":20},{"p":3,"x":-10,"y":20},{"p":3,"x":-5,"y":40},{"p":3,"x":-3.5,"y":100},{"p":3,"x":-2.5,"y":500},{"p":3,"x":-1.5,"y":950},{"p":3,"x":-0.8,"y":1180},{"p":3,"x":0,"y":1100},{"p":3,"x":0.8,"y":980},{"p":3,"x":1.5,"y":1200},{"p":3,"x":2.3,"y":1800},{"p":3,"x":3.1,"y":2400},{"p":3,"x":4.1,"y":3030},{"p":3,"x":5.1,"y":4300},{"p":3,"x":5.6,"y":4950},{"p":3,"x":6.2,"y":5150},{"p":3,"x":7.2,"y":4950},{"p":3,"x":8.2,"y":4450},{"p":3,"x":9.2,"y":3800},{"p":3,"x":10.3,"y":2850},{"p":3,"x":11.3,"y":1950},{"p":3,"x":12,"y":1200},{"p":3,"x":12.8,"y":1080},{"p":3,"x":13.8,"y":1290},{"p":3,"x":14.9,"y":950},{"p":3,"x":15.7,"y":190},{"p":3,"x":16.2,"y":-220},{"p":3,"x":16.9,"y":60},{"p":3,"x":18.2,"y":480},{"p":3,"x":19.2,"y":250},{"p":3,"x":20.3,"y":0},{"p":3,"x":21.1,"y":-370},{"p":3,"x":22,"y":130},{"p":3,"x":23.1,"y":250},{"p":3,"x":23.8,"y":-130},{"p":3,"x":24.6,"y":190},{"p":3,"x":25.7,"y":-60},{"p":3,"x":26.5,"y":190},{"p":3,"x":27.2,"y":-130},{"p":3,"x":28,"y":380},{"p":3,"x":28.9,"y":-440},{"p":3,"x":29.7,"y":60},{"p":3,"x":30,"y":300}
]
},
"hconcat":[
{
"width":392,"height":368,
"layer":[
{
"encoding":{
"x":{"field":"x","type":"quantitative","scale":{"domain":[-30,30],"nice":false,"zero":false},"axis":{"values":[-30,-20,-10,0,10,20,30],"labelExpr":"datum.value + ''","title":"Crank Angle[degCA]","labelBaseline":"middle","labelPadding":53,"titleY":89,"titleBaseline":"middle"}},
"y":{"field":"y","type":"quantitative","scale":{"domain":[-500,6500],"nice":false,"zero":false},"axis":{"values":[-500,500,1500,2500,3500,4500,5500,6500],"labelExpr":"datum.value + ''","title":"ROHR [J/degCA]","ticks":false,"labelPadding":37,"titleX":-133,"titleY":184,"titleAngle":-90,"titleAlign":"center","titleBaseline":"middle","titleFontSize":28}}
},
"layer":[
{"data":{"name":"gray"},"transform":[{"filter":"datum.p==1"}],"mark":{"type":"line","strokeWidth":2,"interpolate":"monotone","clip":true},"encoding":{"stroke":{"field":"s","type":"nominal","scale":{"domain":["g1","g2","g3","g4","g5","g6","g7","g8"],"range":["#1e1e1e","#4a4a4a","#8a8a8a","#ababab","#cfcfcf","#6e6e6e","#9a9a9a","#bdbdbd"]},"legend":null}}},
{"data":{"name":"pre"},"mark":{"type":"line","strokeWidth":3.5,"interpolate":"monotone","clip":true},"encoding":{"detail":{"field":"s","type":"nominal"},"color":{"datum":"Pre−ignition","type":"nominal","scale":{"domain":["400 cycle average","Pre−ignition","thud"],"range":["#f5a31c","#ff0d0d","#0a0af5"]},"legend":{"title":null}}}},
{"data":{"name":"thud"},"transform":[{"filter":"datum.p==1"}],"mark":{"type":"line","strokeWidth":4,"interpolate":"monotone","clip":true},"encoding":{"color":{"datum":"thud","type":"nominal","scale":{"domain":["400 cycle average","Pre−ignition","thud"],"range":["#f5a31c","#ff0d0d","#0a0af5"]},"legend":{"title":null}}}},
{"data":{"name":"avg"},"transform":[{"filter":"datum.p==1"}],"mark":{"type":"line","strokeWidth":2.6,"interpolate":"monotone","clip":true},"encoding":{"color":{"datum":"400 cycle average","type":"nominal","scale":{"domain":["400 cycle average","Pre−ignition","thud"],"range":["#f5a31c","#ff0d0d","#0a0af5"]},"legend":{"title":null}}}}
]
},
{"data":{"values":[{"t":"IGT= −17deg."}]},"mark":{"type":"text","align":"left","baseline":"middle","font":"Noto Sans CJK JP","fontSize":30,"fontWeight":500,"color":"black"},"encoding":{"x":{"datum":-27.7},"y":{"datum":5870},"text":{"field":"t","type":"nominal"}}}
]
},
{
"width":384,"height":368,
"layer":[
{
"encoding":{
"x":{"field":"x","type":"quantitative","scale":{"domain":[-30,30],"nice":false,"zero":false},"axis":{"values":[-30,-20,-10,0,10,20,30],"labelExpr":"datum.value + ''","title":"Crank Angle[degCA]","labelBaseline":"middle","labelPadding":53,"titleY":89,"titleBaseline":"middle"}},
"y":{"field":"y","type":"quantitative","scale":{"domain":[-500,6500],"nice":false,"zero":false},"axis":{"values":[-500,500,1500,2500,3500,4500,5500,6500],"labels":false,"title":null}}
},
"layer":[
{"data":{"name":"gray"},"transform":[{"filter":"datum.p==2"}],"mark":{"type":"line","strokeWidth":2,"interpolate":"monotone","clip":true},"encoding":{"stroke":{"field":"s","type":"nominal","scale":{"domain":["g1","g2","g3","g4","g5","g6","g7","g8"],"range":["#1e1e1e","#4a4a4a","#8a8a8a","#ababab","#cfcfcf","#6e6e6e","#9a9a9a","#bdbdbd"]},"legend":null}}},
{"data":{"name":"avg"},"transform":[{"filter":"datum.p==2"}],"mark":{"type":"line","strokeWidth":2.6,"interpolate":"monotone","clip":true},"encoding":{"color":{"datum":"400 cycle average","type":"nominal","scale":{"domain":["400 cycle average","Pre−ignition","thud"],"range":["#f5a31c","#ff0d0d","#0a0af5"]},"legend":{"title":null}}}}
]
},
{"data":{"values":[{"t":"IGT= −15deg."}]},"mark":{"type":"text","align":"left","baseline":"middle","font":"Noto Sans CJK JP","fontSize":30,"fontWeight":500,"color":"black"},"encoding":{"x":{"datum":-27.2},"y":{"datum":5680},"text":{"field":"t","type":"nominal"}}},
{"data":{"values":[{"t":"left"}]},"mark":{"type":"point","shape":"M0.33,-1L0.33,1L-1,0Z","size":4225,"filled":true,"color":"black","opacity":1,"strokeWidth":0,"clip":false},"encoding":{"x":{"datum":-35.7},"y":{"datum":2980}}},
{"data":{"values":[{"t":"right"}]},"mark":{"type":"point","shape":"M0.33,-1L0.33,1L-1,0Z","size":4225,"filled":true,"color":"black","opacity":1,"strokeWidth":0,"clip":false},"encoding":{"x":{"datum":34.9},"y":{"datum":2980}}}
]
},
{
"width":390,"height":368,
"layer":[
{
"encoding":{
"x":{"field":"x","type":"quantitative","scale":{"domain":[-30,30],"nice":false,"zero":false},"axis":{"values":[-30,-20,-10,0,10,20,30],"labelExpr":"datum.value + ''","title":"Crank Angle[degCA]","labelBaseline":"middle","labelPadding":53,"titleY":89,"titleBaseline":"middle"}},
"y":{"field":"y","type":"quantitative","scale":{"domain":[-500,6500],"nice":false,"zero":false},"axis":{"values":[-500,500,1500,2500,3500,4500,5500,6500],"labels":false,"title":null}}
},
"layer":[
{"data":{"name":"gray"},"transform":[{"filter":"datum.p==3"}],"mark":{"type":"line","strokeWidth":2,"interpolate":"monotone","clip":true},"encoding":{"stroke":{"field":"s","type":"nominal","scale":{"domain":["g1","g2","g3","g4","g5","g6","g7","g8"],"range":["#1e1e1e","#4a4a4a","#8a8a8a","#ababab","#cfcfcf","#6e6e6e","#9a9a9a","#bdbdbd"]},"legend":null}}},
{"data":{"name":"thud"},"transform":[{"filter":"datum.p==3"}],"mark":{"type":"line","strokeWidth":4,"interpolate":"monotone","clip":true},"encoding":{"color":{"datum":"thud","type":"nominal","scale":{"domain":["400 cycle average","Pre−ignition","thud"],"range":["#f5a31c","#ff0d0d","#0a0af5"]},"legend":{"title":null}}}},
{"data":{"name":"avg"},"transform":[{"filter":"datum.p==3"}],"mark":{"type":"line","strokeWidth":2.6,"interpolate":"monotone","clip":true},"encoding":{"color":{"datum":"400 cycle average","type":"nominal","scale":{"domain":["400 cycle average","Pre−ignition","thud"],"range":["#f5a31c","#ff0d0d","#0a0af5"]},"legend":{"title":null}}}}
]
},
{"data":{"values":[{"t":"IGT= −8deg."}]},"mark":{"type":"text","align":"left","baseline":"middle","font":"Noto Sans CJK JP","fontSize":30,"fontWeight":500,"color":"black"},"encoding":{"x":{"datum":-26.6},"y":{"datum":5760},"text":{"field":"t","type":"nominal"}}}
]
}
],
"config":{
"view":{"stroke":null},
"axis":{"domainColor":"black","domainWidth":3.5,"tickColor":"black","tickWidth":3,"tickSize":-9,"grid":false,"labelFont":"Liberation Sans, Arial, sans-serif","labelFontSize":30,"labelFontWeight":"bold","labelColor":"black","titleFont":"Liberation Sans, Arial, sans-serif","titleFontSize":30,"titleFontWeight":"bold","titleColor":"black","labelFlush":false,"labelOverlap":false},
"legend":{"orient":"none","legendX":77,"legendY":488,"direction":"horizontal","columns":3,"columnPadding":77,"symbolType":"stroke","symbolSize":2304,"symbolStrokeWidth":6,"labelFont":"Noto Sans CJK JP","labelFontSize":33,"labelFontWeight":"bold","labelColor":"black","labelOffset":18,"labelLimit":0,"padding":20,"strokeColor":"black","strokeWidth":2}
}
}
